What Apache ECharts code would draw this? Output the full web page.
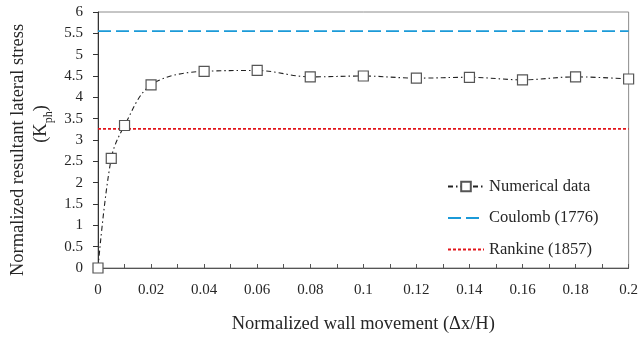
<!DOCTYPE html>
<html><head><meta charset="utf-8">
<script src="https://cdn.jsdelivr.net/npm/echarts@6/dist/echarts.min.js"></script>
<style>html,body{margin:0;padding:0;background:#fff}#c{width:641px;height:339px}</style>
</head><body><div id="c"></div>
<script>
var xValues = [0, 0.005, 0.01, 0.02, 0.04, 0.06, 0.08, 0.1, 0.12, 0.14, 0.16, 0.18, 0.2];
var numericalData = [0, 2.57, 3.34, 4.29, 4.61, 4.63, 4.48, 4.50, 4.45, 4.47, 4.41, 4.48, 4.43];
var coulombValue = 5.55;
var rankineValue = 3.26;
var xRange = [0, 0.2];
var seriesNames = ['Numerical data', 'Coulomb (1776)', 'Rankine (1857)'];
var xTitle = 'Normalized wall movement (\u0394x/H)';
var yTitleLine1 = 'Normalized resultant lateral stress';
var yTitleLine2 = ['(K', 'ph', ')'];

var font = 'Liberation Serif';
var txt = '#262626';
var chart = echarts.init(document.getElementById('c'));
chart.setOption({
  animation: false,
  grid: {left: 98, right: 9, top: 12, bottom: 69, show: true, borderColor: '#8c8c8c', borderWidth: 1},
  legend: {
    orient: 'vertical', left: 447, top: 178, padding: 0, itemWidth: 36, itemHeight: 12, itemGap: 14.5,
    textStyle: {fontFamily: font, fontSize: 16.5, color: txt},
    data: [
      {name: seriesNames[0]},
      {name: seriesNames[1], itemStyle: {opacity: 0}},
      {name: seriesNames[2], itemStyle: {opacity: 0}}
    ]
  },
  graphic: [
    {type: 'text', x: 18, y: 150, rotation: Math.PI / 2,
      style: {text: yTitleLine1, fontFamily: font, fontSize: 18.5, fill: txt, align: 'center', verticalAlign: 'middle'}},
    {type: 'text', x: 40, y: 124, rotation: Math.PI / 2,
      style: {text: '{a|' + yTitleLine2[0] + '}{s|' + yTitleLine2[1] + '}{a|' + yTitleLine2[2] + '}',
        fontFamily: font, fontSize: 18.5, fill: txt, align: 'center', verticalAlign: 'middle',
        rich: {a: {fontFamily: font, fontSize: 18.5, fill: txt, color: txt, lineHeight: 22, verticalAlign: 'bottom'},
               s: {fontFamily: font, fontSize: 12, fill: txt, color: txt, lineHeight: 22, verticalAlign: 'bottom', padding: [0, 0, -4, 0]}}}}
  ],
  xAxis: {
    type: 'value', min: 0, max: 0.2, interval: 0.02,
    name: xTitle, nameLocation: 'middle', nameGap: 47,
    nameTextStyle: {fontFamily: font, fontSize: 18.5, color: txt},
    axisLine: {lineStyle: {color: '#555', width: 1}},
    axisTick: {show: true, inside: true, length: 4, lineStyle: {color: '#555'}},
    minorTick: {show: true, splitNumber: 2, length: 4, lineStyle: {color: '#555'}},
    splitLine: {show: false},
    axisLabel: {fontFamily: font, fontSize: 15, color: txt, margin: 15,
      formatter: function (v) { return String(+v.toFixed(2)); }}
  },
  yAxis: {
    type: 'value', min: 0, max: 6, interval: 0.5,
    axisLine: {show: true, lineStyle: {color: '#333', width: 1}},
    axisTick: {show: true, inside: false, length: 5, lineStyle: {color: '#333'}},
    splitLine: {show: false},
    axisLabel: {fontFamily: font, fontSize: 15, color: txt, margin: 15}
  },
  series: [
    {
      name: seriesNames[0], type: 'line', smooth: 0.35,
      data: xValues.map(function (x, i) { return [x, numericalData[i]]; }),
      symbol: 'rect', symbolSize: 10,
      itemStyle: {color: '#fff', borderColor: '#555', borderWidth: 1.2},
      lineStyle: {color: '#222', width: 1.1, type: [5, 3, 1.5, 3]},
      z: 5
    },
    {
      name: seriesNames[1], type: 'line', symbol: 'none',
      data: [[xRange[0], coulombValue], [xRange[1], coulombValue]],
      lineStyle: {color: '#1b9ad8', width: 1.8, type: [13, 5]},
      itemStyle: {color: '#1b9ad8'}
    },
    {
      name: seriesNames[2], type: 'line', symbol: 'none',
      data: [[xRange[0], rankineValue], [xRange[1], rankineValue]],
      lineStyle: {color: '#e3151b', width: 1.6, type: [3, 2]},
      itemStyle: {color: '#e3151b'}
    }
  ]
});
</script></body></html>
